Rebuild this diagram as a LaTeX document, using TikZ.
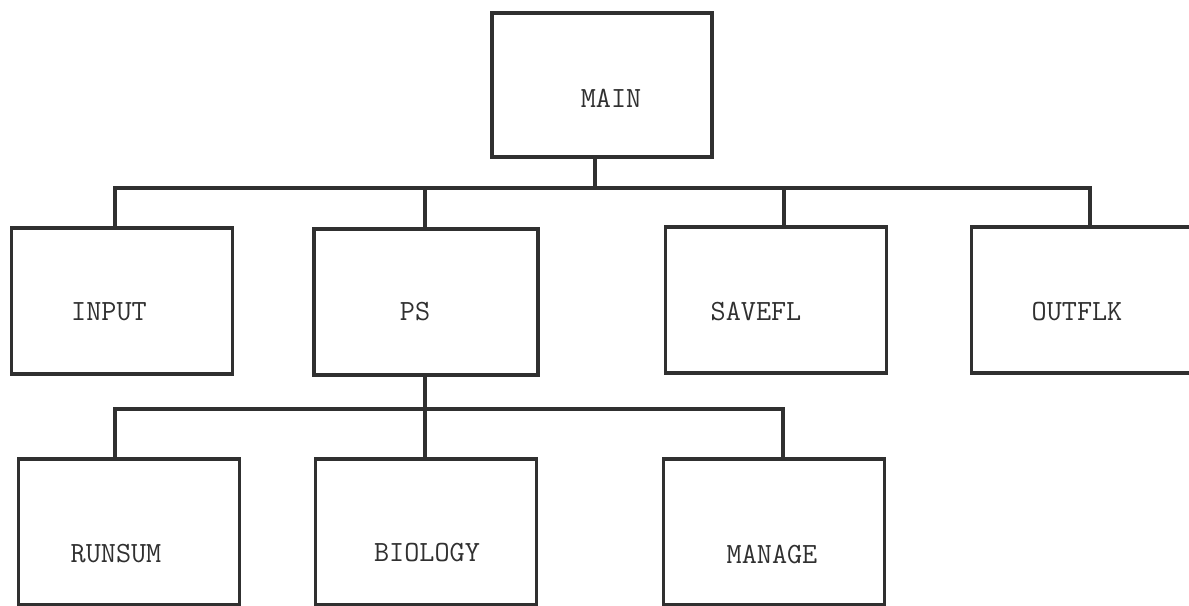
\documentclass[tikz,border=0pt]{standalone}
\usepackage{tikz}
\usetikzlibrary{positioning,calc}
\definecolor{ink}{HTML}{303030}
\begin{document}
\begin{tikzpicture}[x=0.75pt,y=-0.75pt,line width=2.5pt,
    every label/.style={font=\ttfamily\fontsize{22}{26}\selectfont,text=ink,inner sep=0pt}]
        \tikzstyle{module}=[rectangle,draw=ink,line width=2.5pt,inner sep=0pt,outer sep=0pt,
            minimum width=166pt,minimum height=109.5pt]
        \tikzstyle{wire}=[draw=ink,line width=2.5pt,line cap=rect]
        \useasboundingbox (0,0) rectangle (1189,606);
        \clip (0,0) rectangle (1189,606);
        \node[module,minimum width=165pt,minimum height=108pt,label={[shift={(9,13)}]center:MAIN}] (main) at (602,85) {};
        \node[module,label={[shift={(-13,11)}]center:INPUT}] (input) at (122,301) {};
        \node[module,minimum width=168pt,label={[shift={(-11,10)}]center:PS}] (ps) at (426,302) {};
        \node[module,label={[shift={(-20,12)}]center:SAVEFL}] (savefl) at (776,300) {};
        \node[module,label={[shift={(-5,12)}]center:OUTFLK}] (outflk) at (1082,300) {};
        \node[module,label={[shift={(-13,22)}]center:RUNSUM}] (runsum) at (129,532) {};
        \node[module,label={[shift={(1,21)}]center:BIOLOGY}] (biology) at (426,532) {};
        \node[module,label={[shift={(-2,23)}]center:MANAGE}] (manage) at (774,532) {};
        \coordinate (top) at (595,188);
        \coordinate (t-input) at (115,188);
        \coordinate (t-ps) at (425,188);
        \coordinate (t-savefl) at (784,188);
        \coordinate (t-outflk) at (1090,188);
        \coordinate (low) at (425,409);
        \coordinate (l-runsum) at (115,409);
        \coordinate (l-manage) at (783,409);
        \draw[wire] (main.south -| top) -- (top);
        \draw[wire] (t-input) -- (t-outflk);
        \draw[wire] (t-input) -- (t-input |- input.north);
        \draw[wire] (t-ps) -- (t-ps |- ps.north);
        \draw[wire] (t-savefl) -- (t-savefl |- savefl.north);
        \draw[wire] (t-outflk) -- (t-outflk |- outflk.north);
        \draw[wire] (ps.south -| low) -- (low);
        \draw[wire] (l-runsum) -- (l-manage);
        \draw[wire] (l-runsum) -- (l-runsum |- runsum.north);
        \draw[wire] (low) -- (low |- biology.north);
        \draw[wire] (l-manage) -- (l-manage |- manage.north);
\end{tikzpicture}
\end{document}
